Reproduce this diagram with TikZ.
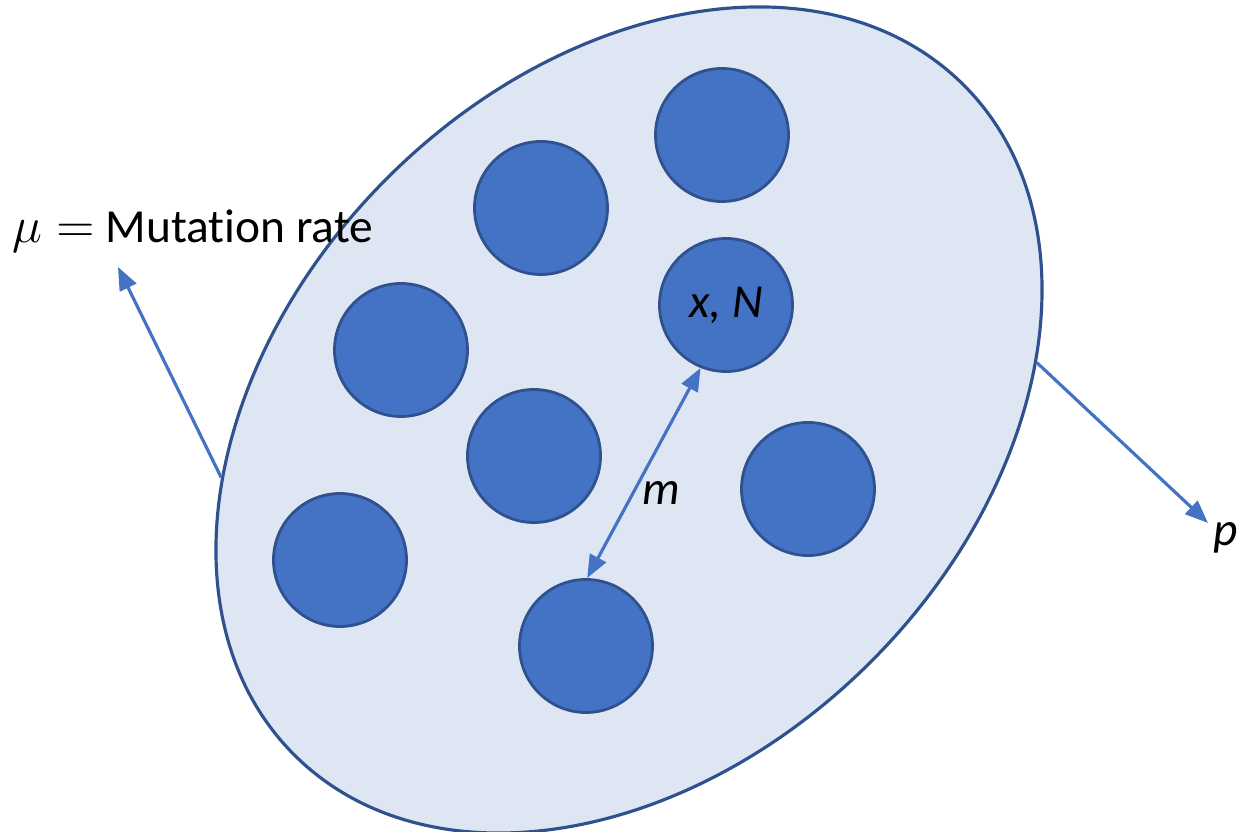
\documentclass[tikz,border=0pt]{standalone}
\usepackage{fontspec}
\setmainfont{Carlito}[Ligatures=NoCommon]
\usepackage{tikz}
\usetikzlibrary{arrows.meta,positioning,shapes.geometric}
\definecolor{popfill}{HTML}{DEE6F3}
\definecolor{popline}{HTML}{2F528F}
\definecolor{cellfill}{HTML}{4472C4}

\begin{document}
\begin{tikzpicture}[>={Triangle[length=2.3mm,width=1.8mm]}, pop/.style={ellipse,draw=popline,fill=popfill,line width=0.9pt,rotate=45,minimum width=9.47cm,minimum height=6.84cm,inner sep=0pt}, cell/.style={circle,draw=popline,fill=cellfill,line width=0.8pt,minimum size=1.33cm,inner sep=0pt,font=\fontsize{13.5}{16}\selectfont\itshape}, arrow/.style={->,draw=cellfill,line width=0.9pt}, twoway/.style={<->,draw=cellfill,line width=0.9pt}, lbl/.style={inner sep=0pt,font=\fontsize{13.5}{16}\selectfont}]
\useasboundingbox (0,0) rectangle (12.37,-8.32);
% population and its demes
\node[pop] (popn) at (6.29,-4.20) {};
\node[cell] (c1) at (7.22,-1.35) {};
\node[cell] (c2) at (5.41,-2.08) {};
\node[cell] (xn) at (7.26,-3.05) {x, N};
\node[cell] (c4) at (4.01,-3.50) {};
\node[cell] (c5) at (5.34,-4.56) {};
\node[cell] (c6) at (8.08,-4.89) {};
\node[cell] (c7) at (3.40,-5.60) {};
\node[cell] (c8) at (5.86,-6.46) {};
% labels
\node[lbl,anchor=base west] (mu) at (0.12,-2.43) {$\mu =$ Mutation rate};
\node[lbl,font=\fontsize{13.5}{16}\selectfont\itshape] (mlbl) at (6.61,-4.93) {m};
\node[lbl,anchor=base west,font=\fontsize{13.5}{16}\selectfont\itshape] (plbl) at (12.13,-5.46) {p};
\coordinate (mutip) at (1.18,-2.67);
\coordinate (ptip) at (12.08,-5.23);
\draw[arrow] (popn.143) -- (mutip);
\draw[arrow] (popn.-37) -- (ptip);
\draw[twoway] (xn.248) -- (c8.89);
\end{tikzpicture}
\end{document}
